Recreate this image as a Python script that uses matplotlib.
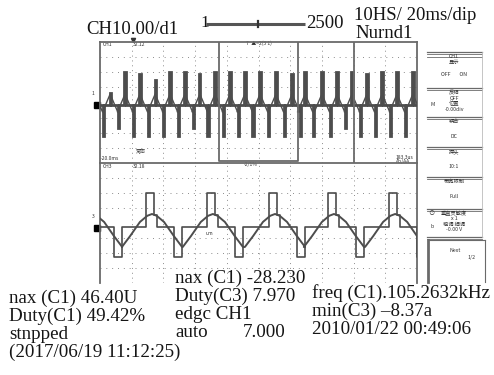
import matplotlib
matplotlib.use("Agg")
import matplotlib.pyplot as plt

# ---- values -------------------------------------------------------------
# Screen is 10 divisions wide; each window is 8 divisions tall.
# CH1 (upper window): positive spike times, spike tops, negative spike depths
UP_X = [-0.16, 0.32, 0.79, 1.26, 1.74, 2.21, 2.68, 3.15, 3.63, 4.10, 4.57,
        5.05, 5.55, 6.06, 6.47, 7.00, 7.48, 7.95, 8.42, 8.90, 9.37, 9.87]
UP_TOP = [2.0, 0.6, 2.0, 1.9, 1.5, 2.0, 2.0, 1.9, 2.0, 2.0, 2.0,
          2.0, 2.0, 1.9, 2.0, 2.0, 2.0, 2.0, 1.9, 2.0, 2.0, 2.0]
DOWN_BOT = [-2.2, -1.7, -2.2, -2.2, -2.2, -2.2, -1.7, -2.2, -2.2, -2.2, -2.2,
            -2.2, -2.2, -2.2, -2.2, -2.2, -1.7, -2.2, -2.2, -2.2, -2.2, -2.2]
CH1_GND = -0.17
TRI_HI, TRI_LO = 0.56, -0.63

# CH3 (lower window): sine peaks and the gate pulses riding on them
PEAK_X = [-0.25, 1.64, 3.56, 5.52, 7.38, 9.31, 11.23]
SINE_DX = [-0.95, -0.69, -0.38, -0.15, 0.0, 0.15, 0.38, 0.69, 0.95]
SINE_Y = [-1.6, -0.87, 0.07, 0.48, 0.6, 0.48, 0.07, -0.87, -1.6]
GATE_DX = [-0.19, -0.19, 0.06, 0.06, 0.16, 0.16, 0.69, 0.69, 0.95, 0.95]
GATE_Y = [-0.27, 2.0, 2.0, 0.53, 0.53, -0.27, -0.27, -2.27, -2.27, -0.27]
CH3_GND = -0.33

ZOOM_BOX = (3.75, 6.25)
CURSOR_X = 8.01

TITLE_L = "CH10.00/d1"
BAR_L, BAR_R = "1", "2500"
TB_1 = "10HS/ 20ms/dip"
TB_2 = "Nurnd1"

MEAS_LEFT = ["nax (C1) 46.40U", "Duty(C1) 49.42%", "stnpped",
             "(2017/06/19 11:12:25)"]
MEAS_MID = ["nax (C1) -28.230", "Duty(C3) 7.970", "edgc CH1", "auto"]
MEAS_MID_VAL = "7.000"
MEAS_RIGHT = ["freq (C1).105.2632kHz", "min(C3) \u20138.37a",
              "2010/01/22 00:49:06"]

MENU = [("CH1", "显示", "OFF        ON"),
        ("反相", "OFF", "位置\n-0.00div"),
        ("耦合", "", "DC"),
        ("探头", "", "10:1"),
        ("带宽限制", "", "Full"),
        ("垂直灵敏度", "x 1", "粗调 细调\n-0.00 V")]

TRACE = "#4d4d4d"
FRAME = "#6a6a6a"
GRID = "#8c8c8c"
INK = "#151515"
W, H = 494, 375

fig = plt.figure(figsize=(W / 100, H / 100), dpi=100)
fig.patch.set_facecolor("white")

# overlay in pixel units, used only for placing text and panel decoration
ov = fig.add_axes([0, 0, 1, 1])
ov.set_xlim(0, W)
ov.set_ylim(H, 0)
ov.axis("off")

up = fig.add_axes([100 / W, 1 - 163 / H, 317 / W, 121 / H])
lo = fig.add_axes([100 / W, 1 - 283 / H, 317 / W, 120 / H])

for ax in (up, lo):
    ax.set_xlim(0, 10)
    ax.set_ylim(-4, 4)
    ax.set_xticks([])
    ax.set_yticks([])
    ax.patch.set_alpha(0)
    for k in range(1, 10):
        ax.axvline(k, color=GRID, lw=0.7, ls=(0, (1, 4)), zorder=1)
    for k in (-3, -2, -1, 1, 2, 3):
        ax.axhline(k, color=GRID, lw=0.7, ls=(0, (1, 5)), zorder=1)
    for s in ax.spines.values():
        s.set_color(FRAME)
        s.set_linewidth(1.3)
lo.spines["bottom"].set_visible(False)
lo.spines["top"].set_visible(False)

# ---- CH1 trace -------------------------------------------------------------
tx, ty = [], []
for s in UP_X:
    tx += [s - 0.24, s, s + 0.24]
    ty += [TRI_LO, TRI_HI, TRI_LO]
up.plot(tx, ty, color=TRACE, lw=1.0, zorder=3)

px_, py_ = [], []
for s, top, bot in zip(UP_X, UP_TOP, DOWN_BOT):
    px_ += [s - 0.02, s - 0.02, s + 0.02, s + 0.02,
            s + 0.24, s + 0.24, s + 0.28, s + 0.28]
    py_ += [CH1_GND, top, top, CH1_GND, CH1_GND, bot, bot, CH1_GND]
up.plot(px_, py_, color=TRACE, lw=2.0, zorder=3, solid_joinstyle="miter")
up.plot([-0.1], [CH1_GND], marker="s", ms=4, color="black", clip_on=False)
up.plot([1.05], [4.15], marker="v", ms=3, color="#333", clip_on=False)

# zoom window and cursor
up.plot([ZOOM_BOX[0], ZOOM_BOX[0], ZOOM_BOX[1], ZOOM_BOX[1]],
        [4, -3.85, -3.85, 4], color=FRAME, lw=1.3, zorder=4)
up.axvline(CURSOR_X, ymin=0, ymax=1, color=FRAME, lw=1.3, zorder=4)

# ---- CH3 traces ------------------------------------------------------------
sx, sy, gx, gy = [], [], [], []
for p in PEAK_X:
    sx += [p + d for d in SINE_DX]
    sy += SINE_Y
    gx += [p + d for d in GATE_DX]
    gy += GATE_Y
lo.plot(sx, sy, color=TRACE, lw=1.4, zorder=3)
lo.plot(gx, gy, color=TRACE, lw=1.2, zorder=3)
lo.plot([-0.1], [CH3_GND], marker="s", ms=4, color="black", clip_on=False)

# small on-screen annotations
tiny = dict(fontsize=3.6, color="#333", family=["Noto Sans CJK SC", "DejaVu Sans"])
ov.text(103, 46, "CH1", **tiny)
ov.text(133, 46, "32.12", **tiny)
ov.text(246, 45, "T  \u25b2=2(3 1)", **tiny)
ov.text(92, 95, "1", **tiny)
ov.text(136, 152, "常态", **tiny, ha="left")
ov.text(101, 160, "-20.0ms", **tiny)
ov.text(103, 168, "CH3", **tiny)
ov.text(133, 168, "32.18", **tiny)
ov.text(244, 166, "-2/1%", **tiny)
ov.text(396, 159, "183.3us", **tiny)
ov.text(396, 163, "Ab/AA", **tiny)
ov.text(206, 235, "um", **tiny)
ov.text(92, 218, "3", **tiny)

# ---- header -----------------------------------------------------------------
serif = dict(family="Liberation Serif", color=INK)
FS = 13.7
ov.text(86, 29, TITLE_L, fontsize=13.5, va="center", **serif)
ov.text(200, 23, BAR_L, fontsize=12.5, va="center", **serif)
ov.plot([206, 305], [24, 24], color="#555", lw=2.2, solid_capstyle="butt")
ov.plot([258, 258], [21, 27], color="#333", lw=1.6)
ov.text(306, 23, BAR_R, fontsize=13.5, va="center", **serif)
ov.text(354, 15, TB_1, fontsize=13.5, va="center", **serif)
ov.text(355, 33, TB_2, fontsize=13.5, va="center", **serif)

# ---- measurement readouts -----------------------------------------------------
for i, t in enumerate(MEAS_LEFT):
    ov.text(9, 298 + 18.2 * i, t, fontsize=FS, va="center", **serif)
for i, t in enumerate(MEAS_MID):
    ov.text(175, 278 + 18.3 * i, t, fontsize=FS, va="center", **serif)
ov.text(243, 278 + 18.3 * 3, MEAS_MID_VAL, fontsize=FS, va="center", **serif)
for i, t in enumerate(MEAS_RIGHT):
    ov.text(312, 293 + 18.5 * i, t, fontsize=FS, va="center", **serif)

# ---- right-hand soft-key menu --------------------------------------------------
cjk = dict(family=["Noto Sans CJK SC", "DejaVu Sans"], color="#333")
seps = [52, 88, 117, 147, 177, 209, 237]
for y in seps:
    ov.plot([427, 482], [y, y], color=FRAME, lw=0.9)
    ov.plot([427, 482], [y + 2, y + 2], color=FRAME, lw=0.6)
ov.plot([427, 482], [57, 57], color=FRAME, lw=0.6)
ov.plot([482, 482], [52, 237], color="#bbb", lw=0.6)
ov.plot([428, 428], [240, 282], color=FRAME, lw=2.0)
ov.plot([485, 485], [240, 282], color=FRAME, lw=0.8)
ov.plot([428, 485], [240, 240], color=FRAME, lw=0.8)
for (head, mid, val), y0, y1 in zip(MENU, seps[:-1], seps[1:]):
    ov.text(454, y0 + 4.5, head, fontsize=3.8, ha="center", va="center", **cjk)
    if mid:
        ov.text(454, y0 + 10, mid, fontsize=3.8, ha="center", va="center", **cjk)
    ov.text(454, (y0 + y1) / 2 + 4, val, fontsize=3.8, ha="center",
            va="center", linespacing=1.0, **cjk)
ov.text(433, 104, "M", fontsize=3.8, ha="center", va="center", **cjk)
ov.text(431, 213, "\u2299", fontsize=4.5, ha="center", va="center", **cjk)
ov.text(432, 227, "b", fontsize=3.8, ha="center", va="center", **cjk)
ov.text(455, 251, "Next", fontsize=3.8, ha="center", va="center", **cjk)
ov.text(472, 258, "1/2", fontsize=3.8, ha="center", va="center", **cjk)

fig.savefig("out.png", dpi=100, facecolor="white")
